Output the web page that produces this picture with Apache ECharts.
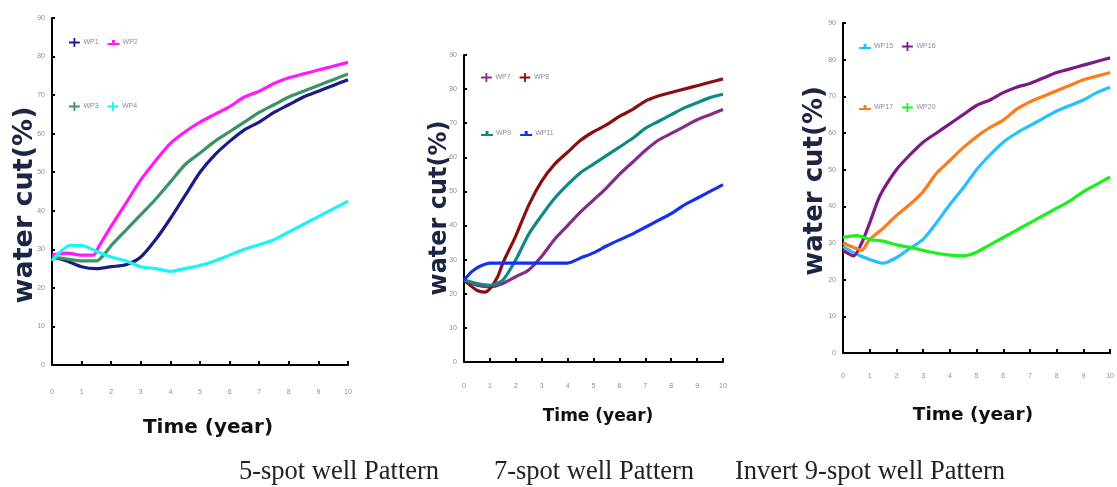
<!DOCTYPE html>
<html><head><meta charset="utf-8">
<script src="https://cdn.jsdelivr.net/npm/echarts@6/dist/echarts.min.js"></script>
<style>html,body{margin:0;padding:0;background:#fff}#c{width:1117px;height:487px}</style>
</head><body><div id="c"></div><script>
// ---------- data ----------
const xTicks = [0,1,2,3,4,5,6,7,8,9,10];
const yTicks = [0,10,20,30,40,50,60,70,80,90];
const tA = [0,0.5,1,1.5,2,2.5,3,3.5,4,4.5,5,5.5,6,6.5,7,7.5,8,8.5,9,9.5,10];

// 5-spot
const t_wp1 = tA;
const wp1 = [28,27,25.5,25,25.5,26,28,32.5,38,44,50,54.5,58,61,63,65.5,67.5,69.5,71,72.5,74];
const t_wp2 = [0,0.5,1,1.4,1.6,2,2.5,3,3.5,4,4.5,5,5.5,6,6.5,7,7.5,8,8.5,9,9.5,10];
const wp2 = [28.5,29,28.5,28.5,31,36,42,48,53,57.5,60.5,63,65,67,69.5,71,73,74.5,75.5,76.5,77.5,78.5];
const t_wp3 = [0,0.5,1,1.5,1.8,2,2.5,3,3.5,4,4.5,5,5.5,6,6.5,7,7.5,8,8.5,9,9.5,10];
const wp3 = [28,27.5,27,27,29,31,35,39,43,47.5,52,55,58,60.5,63,65.5,67.5,69.5,71,72.5,74,75.5];
const t_wp4 = [0,0.3,0.6,1,1.5,2,2.5,3,3.5,4,4.5,5,5.5,6,6.5,7,7.5,8,8.5,9,9.5,10];
const wp4 = [27,29.5,31,31,29.5,28,27,25.5,25,24.3,25,25.8,27,28.5,30,31.2,32.5,34.5,36.5,38.5,40.5,42.5];

// 7-spot
const t_wp7 = tA;
const wp7 = [24,22.5,22,23,25,27,31,36,40,44,47.5,51,55,58.5,62,65,67,69,71,72.5,74];
const t_wp8 = [0,0.5,0.8,1,1.3,1.5,2,2.5,3,3.5,4,4.5,5,5.5,6,6.5,7,7.5,8,8.5,9,9.5,10];
const wp8 = [24,21,20.5,21.5,25,29,37,46,53,58,61.5,65,67.5,69.5,72,74,76.5,78,79,80,81,82,83];
const t_wp9 = tA;
const wp9 = [24,23,22.5,24,30,37.5,43,48,52,55.5,58,60.5,63,65.5,68.5,70.5,72.5,74.5,76,77.5,78.5];
const t_wp11 = [0,0.3,0.6,1,1.5,2,2.5,3,3.5,4,4.5,5,5.5,6,6.5,7,7.5,8,8.5,9,9.5,10];
const wp11 = [24,26.5,28,29,29,29,29,29,29,29,30.5,32,34,35.8,37.5,39.5,41.5,43.5,46,48,50,52];

// inverted 9-spot
const t_wp15 = tA;
const wp15 = [29,27,25.5,24.5,26,28.5,31,35.5,40.5,45,50,54,57.5,60,62,64,66,67.5,69,71,72.5];
const t_wp16 = [0,0.4,0.7,1,1.3,1.5,2,2.5,3,3.5,4,4.5,5,5.5,6,6.5,7,7.5,8,8.5,9,9.5,10];
const wp16 = [28,26.5,30,35.5,41.5,44.5,50,54,57.5,60,62.5,65,67.5,69,71,72.5,73.5,75,76.5,77.5,78.5,79.5,80.5];
const t_wp17 = [0,0.5,0.7,1,1.5,2,2.5,3,3.5,4,4.5,5,5.5,6,6.5,7,7.5,8,8.5,9,9.5,10];
const wp17 = [30,28.5,28,31,34,37.5,40.5,44,49,52.5,56,59,61.5,63.5,66.5,68.5,70,71.5,73,74.5,75.5,76.5];
const t_wp20 = tA;
const wp20 = [31.5,32,31,30.5,29.5,28.8,28,27.2,26.7,26.5,27.5,29.5,31.5,33.5,35.5,37.5,39.5,41.5,44,46,48];

const yTitle = 'water cut(%)';
const xTitle = 'Time (year)';
const captions = ['5-spot well Pattern','7-spot well Pattern','Invert 9-spot well Pattern'];

// ---------- chart ----------
const PLUS = 'path://M0,4H5V0H7V4H12V6H7V10H5V6H0Z';
const TEE = 'path://M0,5H4.5V2H7.5V5H12V7H0Z';

function pairs(ts, vs){ return ts.map((t,i)=>[t, vs[i]]); }
function line(name, ts, vs, color, g){
  return {type:'line', name, xAxisIndex:g, yAxisIndex:g, data:pairs(ts,vs),
    showSymbol:false, symbol:'none', smooth:0.25, color,
    lineStyle:{color, width:3.2}, emphasis:{disabled:true}, animation:false};
}
const series = [
  line('WP1', t_wp1, wp1, '#1b1b86', 0),
  line('WP2', t_wp2, wp2, '#ff19ff', 0),
  line('WP3', t_wp3, wp3, '#3a9466', 0),
  line('WP4', t_wp4, wp4, '#19f5f5', 0),
  line('WP7', t_wp7, wp7, '#862c86', 1),
  line('WP8', t_wp8, wp8, '#8a1010', 1),
  line('WP9', t_wp9, wp9, '#0f8a82', 1),
  line('WP11', t_wp11, wp11, '#1530f0', 1),
  line('WP15', t_wp15, wp15, '#26c0ff', 2),
  line('WP16', t_wp16, wp16, '#7d1a86', 2),
  line('WP17', t_wp17, wp17, '#ff7a1a', 2),
  line('WP20', t_wp20, wp20, '#1cf01c', 2)
];

const grids = [
  {left:52, top:18, width:296, height:347},
  {left:464, top:55, width:259, height:307},
  {left:843, top:23, width:277, height:330}
];
const xMargins = [24, 21, 20];
const labelColor = '#948c92';
function xAx(i){
  return {type:'value', gridIndex:i, min:xTicks[0], max:xTicks[xTicks.length-1], interval:1,
    axisLine:{show:true, onZero:false, lineStyle:{color:'#000', width:2}},
    axisTick:{show:true, inside:true, length:4, lineStyle:{color:'#000', width:2}},
    axisLabel:{show:true, fontSize:7, color:labelColor, margin:xMargins[i], fontFamily:'Liberation Sans'},
    splitLine:{show:false}};
}
function yAx(i){
  return {type:'value', gridIndex:i, min:yTicks[0], max:yTicks[yTicks.length-1], interval:10,
    axisLine:{show:true, onZero:false, lineStyle:{color:'#000', width:2}},
    axisTick:{show:true, inside:true, length:3, lineStyle:{color:'#000', width:2}},
    axisLabel:{show:true, fontSize:7, color:labelColor, margin:7, fontFamily:'Liberation Sans'},
    splitLine:{show:false}};
}
function leg(names, icons, left, top){
  return {show:true, left, top, orient:'horizontal', itemWidth:12, itemHeight:9, itemGap:9,
    selectedMode:false, textStyle:{fontSize:7, color:'#8a8c98', padding:[0,0,0,-2]},
    data:names.map((n,i)=>({name:n, icon:icons[i]}))};
}
const legends = [
  leg(['WP1','WP2'], [PLUS, TEE], 64, 33),
  leg(['WP3','WP4'], [PLUS, PLUS], 64, 97),
  leg(['WP7','WP8'], [PLUS, PLUS], 476, 68),
  leg(['WP9','WP11'], [TEE, TEE], 476, 125),
  leg(['WP15','WP16'], [TEE, PLUS], 854, 37),
  leg(['WP17','WP20'], [TEE, PLUS], 854, 98)
];

const yT = [{x:25,y:205,s:27},{x:440,y:208,s:24},{x:815,y:181,s:26}];
const xT = [{x:208,y:428,s:20},{x:598,y:417,s:17},{x:973,y:415,s:18.5}];
const capX = [339, 594, 870];
const graphic = [];
yT.forEach(p=>graphic.push({type:'text', x:p.x, y:p.y, rotation:Math.PI/2,
  style:{text:yTitle, font:'bold '+p.s+'px "DejaVu Sans"', fill:'#1c2544', align:'center', verticalAlign:'middle'}}));
xT.forEach(p=>graphic.push({type:'text', x:p.x, y:p.y,
  style:{text:xTitle, font:'bold '+p.s+'px "DejaVu Sans"', fill:'#111', align:'center', verticalAlign:'middle'}}));
captions.forEach((c,i)=>graphic.push({type:'text', x:capX[i], y:472,
  style:{text:c, font:'26.5px "Liberation Serif"', fill:'#222', align:'center', verticalAlign:'middle'}}));

const chart = echarts.init(document.getElementById('c'), null, {renderer:'canvas'});
chart.setOption({
  animation:false,
  backgroundColor:'#fff',
  grid:grids,
  xAxis:[xAx(0),xAx(1),xAx(2)],
  yAxis:[yAx(0),yAx(1),yAx(2)],
  legend:legends,
  series,
  graphic
});
</script></body></html>
